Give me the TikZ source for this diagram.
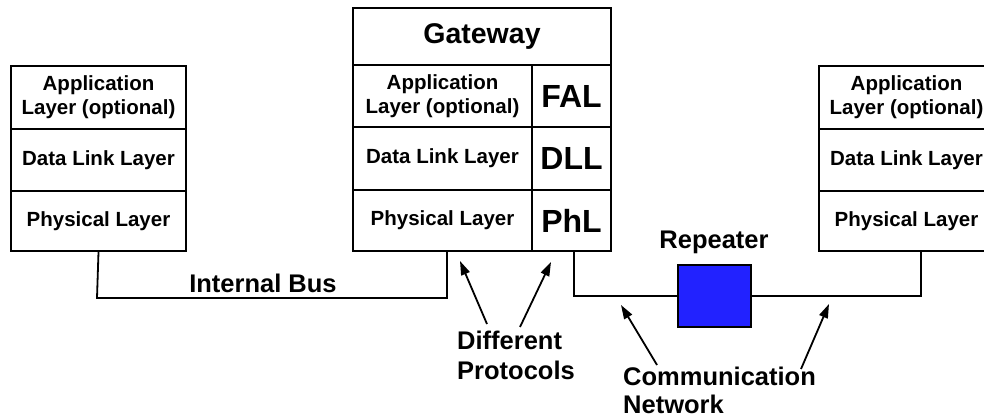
\documentclass[tikz,border=0pt]{standalone}
\usepackage{fontspec}
\setmainfont{Liberation Sans}
\usetikzlibrary{arrows.meta,positioning,calc}
\definecolor{repblue}{RGB}{34,34,255}
\tikzset{
  layer/.style={draw, line width=1.8pt, inner sep=0pt, align=center,
    font=\bfseries\fontsize{20.5}{24}\selectfont},
  big/.style={layer, font=\bfseries\fontsize{32}{34}\selectfont},
  wire/.style={line width=1.8pt},
  lbl/.style={font=\bfseries\fontsize{25.5}{30}\selectfont, inner sep=0pt},
  pointer/.style={line width=1.8pt, -{Stealth[length=14pt,width=9pt,inset=0pt]}}
}
\begin{document}
\begin{tikzpicture}[x=1pt, y=-1pt]
  \useasboundingbox (0,0) rectangle (984,419);
  \clip (0,0) rectangle (984,419);

  % left device
  \node[layer, minimum width=175pt, minimum height=63pt] (lapp) at (98.5,97.5) {Application\\Layer (optional)};
  \node[layer, minimum width=175pt, minimum height=62pt] (ldll) at (98.5,160) {Data Link Layer};
  \node[layer, minimum width=175pt, minimum height=60pt] (lphy) at (98.5,221) {Physical Layer};

  % gateway
  \node[layer, minimum width=258pt, minimum height=57pt, font=\bfseries\fontsize{28.5}{30}\selectfont] (gw) at (482,36.5) {Gateway};
  \node[layer, minimum width=179pt, minimum height=62pt] (gapp) at (442.5,96) {Application\\Layer (optional)};
  \node[layer, minimum width=179pt, minimum height=63pt] (gdll) at (442.5,158.5) {Data Link Layer};
  \node[layer, minimum width=179pt, minimum height=61pt] (gphy) at (442.5,220.5) {Physical Layer};
  \node[big, minimum width=79pt, minimum height=62pt] (gfal) at (571.5,96) {FAL};
  \node[big, minimum width=79pt, minimum height=63pt] (gdl) at (571.5,158.5) {DLL};
  \node[big, minimum width=79pt, minimum height=61pt] (gphl) at (571.5,220.5) {PhL};

  % right device
  \node[layer, minimum width=175pt, minimum height=63pt] (rapp) at (906.5,97.5) {Application\\Layer (optional)};
  \node[layer, minimum width=175pt, minimum height=62pt] (rdll) at (906.5,160) {Data Link Layer};
  \node[layer, minimum width=175pt, minimum height=60pt] (rphy) at (906.5,221) {Physical Layer};

  % repeater
  \node[draw, line width=1.8pt, fill=repblue, minimum width=73pt, minimum height=62pt, inner sep=0pt] (rep) at (714.5,296) {};
  \node[lbl, anchor=base] (replbl) at (714,249) {Repeater};

  % internal bus
  \coordinate (busL) at (97,298);
  \coordinate (busR) at (447,298);
  \coordinate (gwL) at (447,251);
  \draw[wire] (lphy.south) -- (busL) -- (busR) -- (gwL);
  \node[lbl, anchor=base] (buslbl) at (263,292) {Internal Bus};

  % communication network
  \coordinate (gwR) at (574,251);
  \coordinate (netL) at (574,296);
  \coordinate (netR) at (921,296);
  \coordinate (rdev) at (921,251);
  \draw[wire] (gwR) -- (netL) -- (rep.west);
  \draw[wire] (rep.east) -- (netR) -- (rdev);

  % annotations
  \node[lbl, anchor=north west, align=left] (proto) at (457,331) {Different\\Protocols};
  \node[lbl, anchor=north west, align=left, font=\bfseries\fontsize{25.5}{27.5}\selectfont] (net) at (623,367) {Communication\\Network};

  \coordinate (p1s) at (487,324);
  \coordinate (p1e) at (460,261);
  \coordinate (p2s) at (520,327);
  \coordinate (p2e) at (551,262);
  \coordinate (n1s) at (657,365);
  \coordinate (n1e) at (621,305);
  \coordinate (n2s) at (801,369);
  \coordinate (n2e) at (829,304);
  \draw[pointer] (p1s) -- (p1e);
  \draw[pointer] (p2s) -- (p2e);
  \draw[pointer] (n1s) -- (n1e);
  \draw[pointer] (n2s) -- (n2e);
\end{tikzpicture}
\end{document}
